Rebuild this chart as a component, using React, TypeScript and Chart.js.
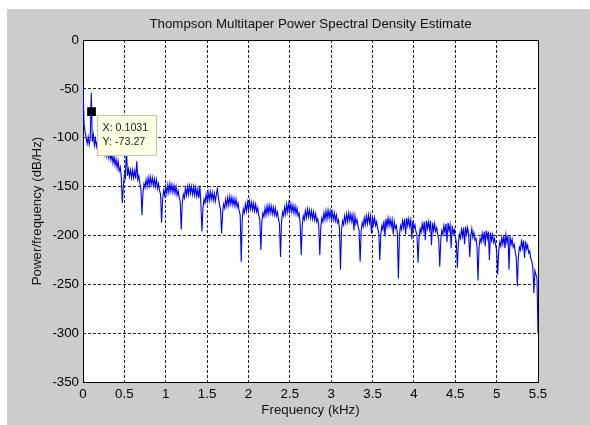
import React, { useEffect, useRef } from "react";
import { Chart, registerables } from "chart.js";

Chart.register(...registerables);

const TITLE = "Thompson Multitaper Power Spectral Density Estimate";
const X_LABEL = "Frequency (kHz)";
const Y_LABEL = "Power/frequency (dB/Hz)";

const X_TICKS = [0, 0.5, 1, 1.5, 2, 2.5, 3, 3.5, 4, 4.5, 5, 5.5];
const Y_TICKS = [0, -50, -100, -150, -200, -250, -300, -350];

// spectrum sampled every 0.0125 kHz, starting at 0 kHz
const FREQ_STEP_KHZ = 0.0125;

// 0 – 1.425 kHz
const PSD_LOW = [
  -45, -86, -94, -100, -106, -99, -107, -101, -54, -104,
  -97, -108, -101, -109, -103, -111, -105, -113, -107, -115,
  -109, -117, -111, -119, -113, -121, -115, -123, -117, -126,
  -119, -128, -122, -131, -124, -134, -130, -140,
  -167, -150, -138, -141, -108, -139, -132, -140, -133, -141, -133, -141, -134, -142, -124, -143, -139, -147, -152,
  -179, -156, -147, -151, -143, -150, -141, -149, -140, -148, -141, -149, -142, -150, -143, -152, -147, -154, -158,
  -187, -163, -154, -159, -150, -157, -148, -156, -147, -155, -148, -156, -149, -157, -150, -159, -154, -161, -165,
  -194, -167, -158, -162, -152, -159, -150, -158, -149, -157, -150, -158, -150, -159, -151, -160, -153, -162, -149, -168,
];

// 1.4375 – 3.1 kHz
const PSD_MID = [
  -196, -172, -163, -167, -158, -165, -156, -164, -155, -163, -156, -164, -157, -165, -158, -152, -162, -169, -173,
  -198, -177, -168, -172, -163, -170, -161, -169, -160, -168, -161, -169, -162, -170, -163, -171, -167, -175, -179,
  -227, -183, -173, -177, -168, -175, -166, -174, -165, -173, -166, -174, -167, -175, -168, -176, -172, -180, -184,
  -215, -186, -177, -181, -172, -179, -170, -178, -169, -177, -170, -178, -171, -179, -172, -180, -176, -183, -188,
  -222, -186, -176, -180, -171, -178, -168, -176, -167, -175, -168, -176, -169, -177, -170, -178, -172, -180, -177, -188,
  -220, -190, -180, -184, -175, -182, -173, -181, -174, -182, -175, -183, -176, -184, -178, -186, -183, -191,
  -220, -191, -182, -186, -177, -184, -175, -183, -174, -182, -175, -183, -176, -184, -177, -185, -179, -187, -184, -193,
];

// 3.1125 – 5.5 kHz
const PSD_HIGH = [
  -235, -194, -185, -189, -180, -187, -178, -186, -177, -185, -178, -186, -179, -195, -180, -188, -184, -191, -195,
  -227, -196, -187, -191, -182, -189, -180, -188, -179, -187, -180, -198, -181, -189, -182, -190, -186, -193, -197,
  -225, -199, -190, -194, -185, -201, -183, -191, -182, -190, -183, -191, -184, -199, -186, -193, -190, -198,
  -244, -200, -190, -194, -185, -192, -183, -199, -182, -190, -183, -191, -184, -204, -185, -193, -189, -196, -200,
  -228, -202, -193, -197, -188, -195, -186, -205, -185, -193, -186, -194, -185, -210, -187, -195, -188, -196, -192, -199, -204,
  -232, -204, -195, -199, -190, -197, -188, -207, -187, -195, -189, -213, -190, -198, -194, -201, -207,
  -233, -208, -199, -203, -194, -201, -192, -209, -191, -199, -192, -200, -222, -201, -193, -202, -197, -205, -203, -211,
  -246, -212, -203, -207, -198, -205, -196, -211, -195, -203, -196, -225, -197, -205, -199, -207, -203, -210, -215,
  -240, -216, -207, -211, -202, -209, -200, -213, -199, -207, -200, -235, -201, -209, -204, -212, -209, -217, -223,
  -252, -222, -212, -215, -206, -213, -205, -223, -206, -214, -210, -218, -216, -224, -226, -233,
  -259, -236, -240, -243, -300,
];

const DATATIP = { x: 0.1031, y: -73.27 };

const FONT = '"Liberation Sans", Arial, Helvetica, sans-serif';
const TEXT_PX = 13.3;

const decor = {
  id: "decor",
  beforeDraw(chart: any) {
    const { ctx, chartArea: a } = chart;
    ctx.save();
    ctx.fillStyle = "#ffffff";
    ctx.fillRect(a.left, a.top, a.right - a.left, a.bottom - a.top);
    ctx.restore();
  },
  beforeDatasetsDraw(chart: any) {
    const { ctx, chartArea: a } = chart;
    ctx.save();
    ctx.strokeStyle = "#000";
    ctx.lineWidth = 1;
    ctx.setLineDash([]);
    ctx.strokeRect(a.left + 0.5, a.top + 0.5, a.right - a.left, a.bottom - a.top);
    ctx.restore();
  },
  afterDatasetsDraw(chart: any) {
    const { ctx } = chart;
    const xs = chart.scales.x;
    const ys = chart.scales.y;
    const mx = xs.getPixelForValue(DATATIP.x);
    const my = ys.getPixelForValue(DATATIP.y);
    const bx = Math.round(mx + 5) + 0.5;
    const by = Math.round(my + 3) + 0.5;
    ctx.save();
    ctx.fillStyle = "#ffffe1";
    ctx.strokeStyle = "#c4c4a8";
    ctx.lineWidth = 1;
    ctx.fillRect(bx, by, 59, 40);
    ctx.strokeRect(bx, by, 59, 40);
    ctx.fillStyle = "#1a1a1a";
    ctx.font = `10.7px ${FONT}`;
    ctx.textAlign = "left";
    ctx.textBaseline = "middle";
    ctx.fillText(`X: ${DATATIP.x}`, bx + 5, by + 12.5);
    ctx.fillText(`Y: ${DATATIP.y}`, bx + 5, by + 26.5);
    ctx.restore();
  },
  afterDraw(chart: any) {
    const { ctx, chartArea: a } = chart;
    const cx = (a.left + a.right) / 2;
    const cy = (a.top + a.bottom) / 2;
    ctx.save();
    ctx.fillStyle = "#111";
    ctx.font = `${TEXT_PX}px ${FONT}`;
    ctx.textAlign = "center";
    ctx.textBaseline = "middle";
    ctx.fillText(TITLE, cx, a.top - 16);
    ctx.fillText(X_LABEL, cx, a.bottom + 28);
    ctx.translate(30, cy);
    ctx.rotate(-Math.PI / 2);
    ctx.fillText(Y_LABEL, 0, 0);
    ctx.restore();
  },
};

export default function App() {
  const ref = useRef<HTMLCanvasElement | null>(null);

  useEffect(() => {
    const canvas = ref.current;
    if (!canvas) return;
    const psd = [...PSD_LOW, ...PSD_MID, ...PSD_HIGH];
    const points = psd.map((v, i) => ({ x: i * FREQ_STEP_KHZ, y: v }));

    const tickFont = { family: FONT, size: TEXT_PX };

    const chart = new Chart(canvas, {
      type: "line",
      data: {
        datasets: [
          {
            data: [DATATIP],
            showLine: false,
            pointStyle: "rect",
            pointRadius: 6.2,
            pointBorderWidth: 0,
            backgroundColor: "#000",
            borderColor: "#000",
          },
          {
            data: points,
            borderColor: "#0000ff",
            borderWidth: 1.1,
            pointRadius: 0,
            tension: 0,
            fill: false,
          },
        ],
      },
      options: {
        responsive: false,
        animation: false,
        devicePixelRatio: 1,
        events: [],
        layout: { padding: { top: 31, right: 52, bottom: 0, left: 0 } },
        plugins: {
          legend: { display: false },
          tooltip: { enabled: false },
          title: { display: false },
        },
        scales: {
          x: {
            type: "linear",
            min: 0,
            max: 5.5,
            afterBuildTicks: (s: any) => {
              s.ticks = X_TICKS.map((v) => ({ value: v }));
            },
            afterFit: (s: any) => {
              s.height = 43;
            },
            grid: { color: "#222", lineWidth: 1, drawTicks: false },
            border: { display: false, dash: [3, 2] },
            ticks: {
              padding: 4,
              color: "#000",
              font: tickFont,
              autoSkip: false,
              maxRotation: 0,
              callback: (v: any) => String(Math.round(Number(v) * 10) / 10),
            },
          },
          y: {
            type: "linear",
            min: -350,
            max: 0,
            afterBuildTicks: (s: any) => {
              s.ticks = Y_TICKS.map((v) => ({ value: v }));
            },
            afterFit: (s: any) => {
              s.width = 76;
            },
            grid: { color: "#222", lineWidth: 1, drawTicks: false },
            border: { display: false, dash: [3, 2] },
            ticks: {
              padding: 4,
              color: "#000",
              font: tickFont,
              autoSkip: false,
              callback: (v: any) => String(v),
            },
          },
        },
      },
      plugins: [decor],
    } as any);

    return () => chart.destroy();
  }, []);

  return (
    <div
      style={{
        position: "absolute",
        left: 7,
        top: 9,
        width: 583,
        height: 416,
        background: "#cccccc",
      }}
    >
      <canvas ref={ref} width={583} height={416} style={{ display: "block", width: 583, height: 416 }} />
    </div>
  );
}
